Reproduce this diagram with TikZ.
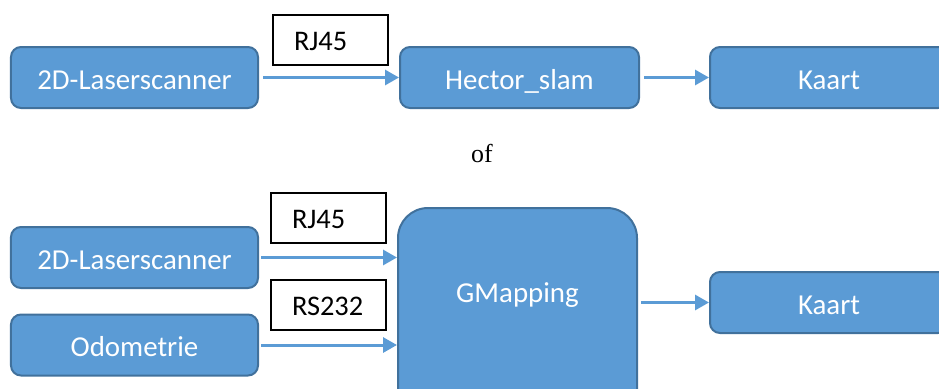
\documentclass[tikz,border=0pt]{standalone}
\usepackage{fontspec}
\setmainfont{Carlito}
\newfontfamily\serifword{Liberation Serif}
\usetikzlibrary{arrows.meta}
\definecolor{boxfill}{HTML}{5B9BD5}
\definecolor{boxline}{HTML}{41719C}

\begin{document}
\begin{tikzpicture}[x=1bp, y=-1bp,
  blockbox/.style={draw=boxline, fill=boxfill, line width=2bp, rounded corners=10bp,
    text=white, font=\fontsize{29}{34}\selectfont, minimum height=61bp, inner sep=0pt,
    text height=24bp, text depth=0.3bp},
  tagbox/.style={draw=black, fill=white, line width=1.2bp,
    font=\fontsize{28.5}{34}\selectfont, minimum height=50bp, inner xsep=21bp,
    text width=73bp, align=left, inner ysep=0pt, text height=23bp, text depth=2bp},
  flow/.style={draw=boxfill, line width=3bp, -{Triangle[length=14bp,width=15bp]}}
]
\useasboundingbox (0,0) rectangle (939,388);
\clip (0,0) rectangle (939,388);

% first chain: laser scanner -> Hector_slam -> map
\node[blockbox, minimum width=247bp] (laserA) at (134.5,77.5) {2D-Laserscanner};
\node[tagbox] (rjA) at (330.5,40) {RJ45};
\node[blockbox, minimum width=239bp] (hector) at (519.5,77.5) {Hector\_slam};
\node[blockbox, minimum width=238bp] (kaartA) at (829,77.5) {Kaart};
\draw[flow, shorten <=4bp] (laserA.east) -- (hector.west);
\draw[flow, shorten <=4bp] (hector.east) -- (kaartA.west);

\node[font=\serifword\fontsize{26}{30}\selectfont, anchor=base] (ofword) at (482,162) {of};

% second chain: laser scanner + odometry -> GMapping -> map
\node[blockbox, minimum width=247bp] (laserB) at (134.5,257.5) {2D-Laserscanner};
\node[blockbox, minimum width=247bp] (odo) at (134.5,345) {Odometrie};
\node[tagbox] (rjB) at (328.5,218) {RJ45};
\node[tagbox] (rsB) at (328.5,305) {RS232};
\node[blockbox, minimum width=239bp, rounded corners=30bp, anchor=north,
  inner ysep=74bp, text height=20bp, text depth=60bp] (gmap) at (517.5,207) {GMapping};
\node[blockbox, minimum width=238bp] (kaartB) at (829,302.5) {Kaart};
\draw[flow, shorten <=2bp] (laserB.east) -- (laserB.east -| gmap.west);
\draw[flow, shorten <=2bp] (odo.east) -- (odo.east -| gmap.west);
\draw[flow, shorten <=3bp] (gmap.east |- kaartB.west) -- (kaartB.west);
\end{tikzpicture}
\end{document}
